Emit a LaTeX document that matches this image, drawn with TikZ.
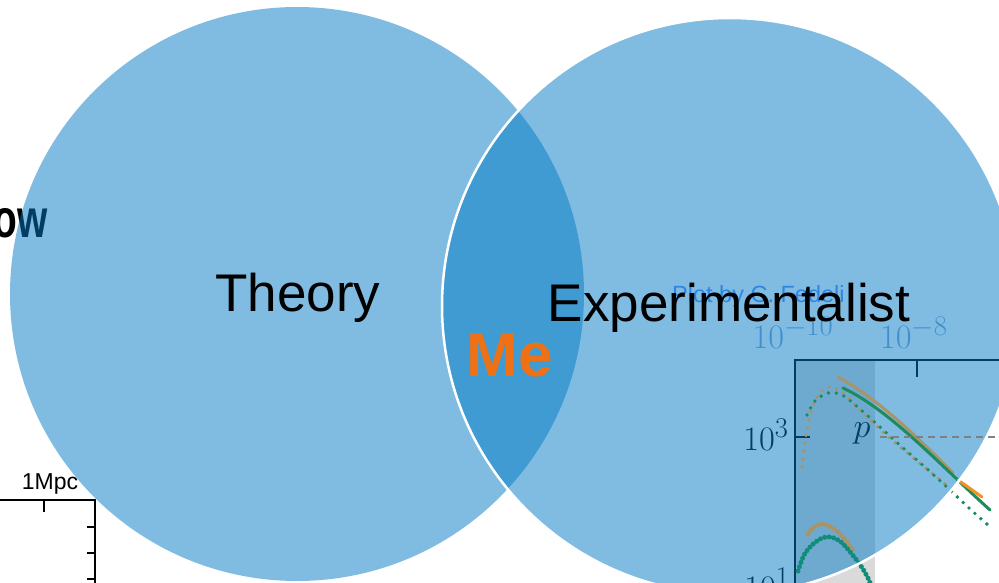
\documentclass[tikz,border=0pt]{standalone}
\usepackage{fontspec}
\setmainfont{Liberation Sans}
\usepackage{xcolor}
\usepackage{graphicx}
\usepackage{tikz}
\usetikzlibrary{positioning}
\definecolor{venn}{RGB}{3,123,198}
\definecolor{meorange}{HTML}{EE7116}
\definecolor{plottan}{HTML}{A89468}
\definecolor{plotgreen}{HTML}{1C8C5E}
\definecolor{plotteal}{HTML}{118C7A}
\definecolor{plotorange}{HTML}{F39221}
\definecolor{band}{HTML}{DADADA}
\definecolor{ticklab}{RGB}{130,165,220}
\definecolor{credit}{RGB}{90,145,255}
\newcommand\biglab[1]{\scalebox{1.38}{#1}}

\begin{document}
\begin{tikzpicture}[x=1pt,y=-1pt,
  circ/.style={fill=venn,fill opacity=0.5},
  big/.style={font=\fontsize{53}{60}\selectfont,inner sep=0pt},
  axis/.style={draw=black,line width=1.6pt},
  tick/.style={draw=black,line width=1.2pt},
  mlab/.style={font=\fontsize{24.88}{30}\selectfont,inner sep=0pt},
  solidc/.style={line width=3pt,line cap=round},
  dotc/.style={line width=3.8pt,line cap=round,dash pattern=on 0pt off 8pt},
  densec/.style={line width=5pt,line cap=round,dash pattern=on 0pt off 4.5pt}
]
\clip (0,0) rectangle (999,583);
\fill[white] (0,0) rectangle (999,583);

% leftovers of the slide underneath
\node[inner sep=0pt,anchor=base east,font=\fontsize{54}{60}\bfseries] (ow) at (48,237) {\scalebox{0.72}[1]{ow}};
\node[inner sep=0pt,anchor=base,font=\fontsize{23}{26}\selectfont] (mpc) at (50,489) {1Mpc};
\draw[axis] (0,500) -- (95,500) -- (95,583);
\draw[tick] (44,500) -- (44,512);
\foreach \yy in {527,553,579}
  \draw[tick] (95,\yy) -- (87,\yy);

% the plot on the right
\fill[band] (795,360) rectangle (875,583);
\draw[axis] (795,583) -- (795,360) -- (999,360);
\draw[tick] (917,360) -- (917,377);
\draw[tick] (795,437) -- (810,437);
\node[mlab,anchor=base,text=ticklab] (t10) at (793,348) {\biglab{$10^{-10}$}};
\node[mlab,anchor=base,text=ticklab] (t8) at (914,348) {\biglab{$10^{-8}$}};
\node[mlab,anchor=base east] (t3) at (789,450) {\biglab{$10^{3}$}};
\node[mlab,anchor=base east] (t1) at (790,599) {\biglab{$10^{1}$}};
\node[mlab,anchor=base] (p) at (862,437) {\biglab{$p$}};
\node[inner sep=0pt,anchor=base west,font=\fontsize{23.5}{26}\selectfont,text=credit] (cred) at (672,302) {Plot by C. Fedeli};

% the two sets
\fill[circ] (297,294) circle[radius=287pt];
\fill[circ] (730,306) circle[radius=288pt];

% curves
\draw[dotc,plottan] plot[smooth] coordinates {(802,467) (805,442) (811,412) (819,394) (829,387) (842,392) (860,410) (882,431) (905,451) (928,470) (950,488)};
\draw[dotc,plotgreen] plot[smooth] coordinates {(807,415) (815,401) (828,393) (842,395) (860,409) (880,427) (902,447) (926,468) (950,490) (970,509) (988,525)};
\draw[solidc,plottan] (838,377) .. controls (880,400) and (920,440) .. (953,473);
\draw[solidc,plotgreen] (843,388) .. controls (890,410) and (940,465) .. (990,510);
\draw[solidc,plotorange] (958,480) -- (982,497);
\draw[densec,plottan] plot[smooth] coordinates {(808,534) (815,526) (823,524) (831,527) (839,533) (846,541) (853,550)};
\draw[densec,plotteal] plot[smooth] coordinates {(798,571) (804,555) (812,545) (822,538) (831,537) (841,542) (851,553) (861,566) (869,580) (872,590)};
\draw[dash pattern=on 7pt off 5pt,line width=1.5pt,gray] (880,437) -- (999,437);

\draw[white,line width=2.5pt] (730,306) circle[radius=288pt];

% labels
\node[big,anchor=base] (theory) at (298,311) {Theory};
\node[big,anchor=base] (exp) at (729,321) {Experimentalist};
\node[inner sep=0pt,anchor=base,font=\fontsize{62}{70}\bfseries,text=meorange] (me) at (510,376) {Me};
\end{tikzpicture}
\end{document}
